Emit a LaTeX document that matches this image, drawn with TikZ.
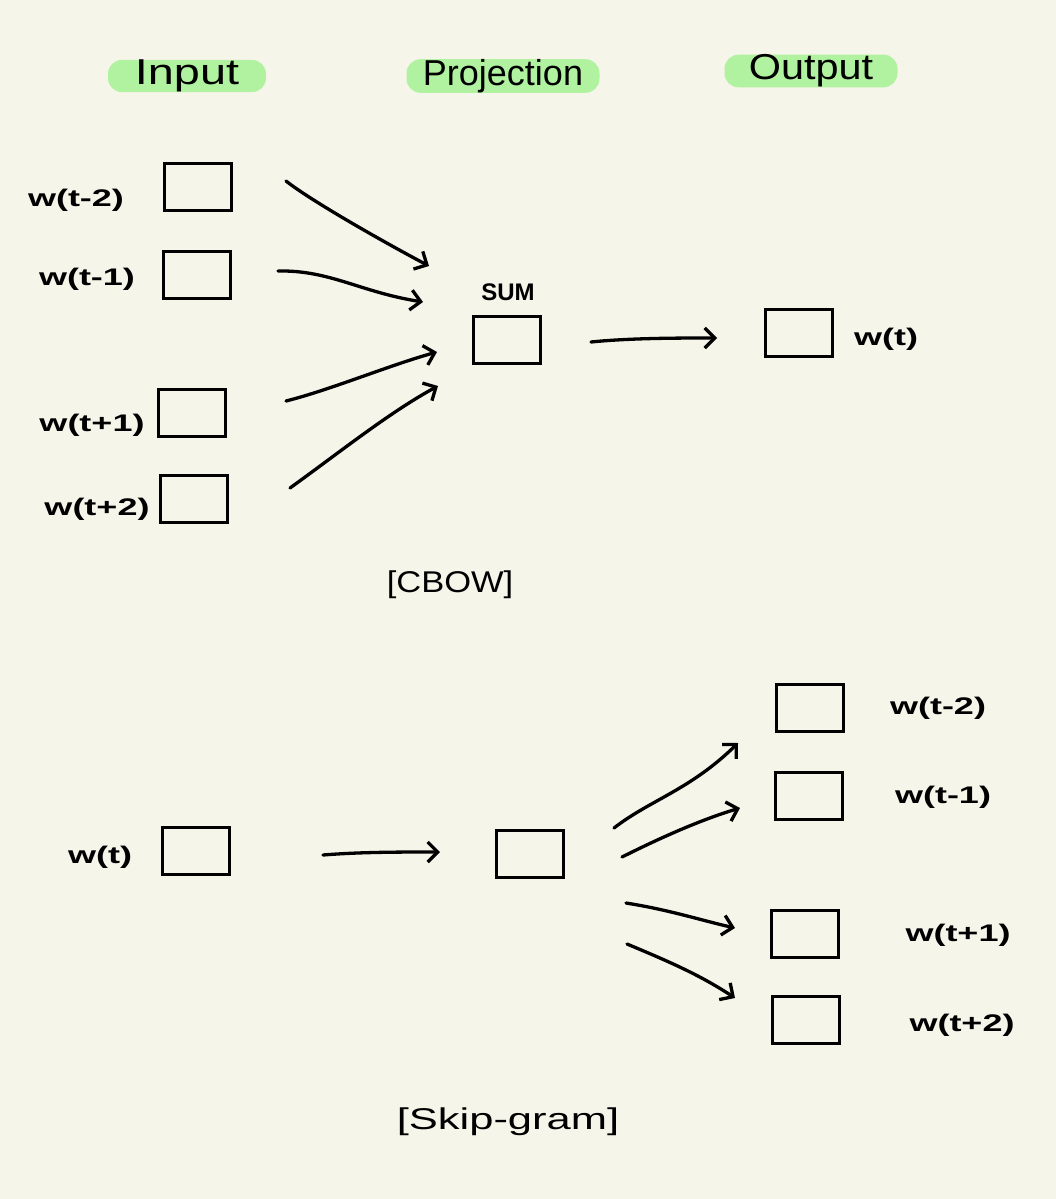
\documentclass[tikz,border=0pt]{standalone}
\usepackage{fontspec}
\setmainfont{Liberation Sans}
\usetikzlibrary{arrows.meta}
\definecolor{bg}{HTML}{F6F5EA}
\definecolor{pill}{HTML}{B0F2A0}
\newcommand{\wide}[1]{\scalebox{1.5}[1]{#1}}
\tikzset{
  box/.style={draw=black, line width=3.3pt, minimum width=67pt, minimum height=47pt, inner sep=0pt},
  lbl/.style={font=\fontsize{24}{26}\selectfont\bfseries, inner sep=0pt},
  head/.style={fill=pill, rounded corners=14pt, minimum height=29pt, inner sep=0pt, font=\fontsize{36}{38}\selectfont},
  captext/.style={font=\fontsize{30}{32}\selectfont, inner sep=0pt},
  arr/.style={line width=3.3pt, line cap=round, -{Straight Barb[length=10pt,width=20pt,line width=3.3pt]}}
}
\begin{document}
\begin{tikzpicture}[x=1pt,y=-1pt]
\fill[bg] (0,0) rectangle (1056,1199);
\useasboundingbox (0,0) rectangle (1056,1199);
% headers
\node[head, minimum width=158pt] (hin) at (187,76) {\scalebox{1.3}[1]{Input}};
\node[head, minimum width=193pt] (hproj) at (503,76) {Projection};
\node[head, minimum width=173pt] (hout) at (811,71) {\scalebox{1.15}[1]{Output}};
% CBOW
\node[box] (i1) at (198,187) {};
\node[box] (i2) at (197,275) {};
\node[box] (i3) at (192,413) {};
\node[box] (i4) at (194,499) {};
\node[box] (sum) at (507,340) {};
\node[box] (out) at (799,333) {};
\node[lbl] (l1) at (76,200) {\wide{w(t-2)}};
\node[lbl] (l2) at (87,279) {\wide{w(t-1)}};
\node[lbl] (l3) at (92,425) {\wide{w(t+1)}};
\node[lbl] (l4) at (97,509) {\wide{w(t+2)}};
\node[lbl] (lsum) at (508,292) {SUM};
\node[lbl] (lout) at (886,339) {\wide{w(t)}};
\coordinate (a1s) at (286,181); \coordinate (a1e) at (429,266);
\coordinate (a2s) at (278,271); \coordinate (a2e) at (423,302);
\coordinate (a3s) at (286,401); \coordinate (a3e) at (437,352);
\coordinate (a4s) at (290,488); \coordinate (a4e) at (438,386);
\coordinate (a5s) at (591,342); \coordinate (a5e) at (717,338);
\draw[arr] (a1s) .. controls (310,200) and (380,240) .. (a1e);
\draw[arr] (a2s) .. controls (330,270) and (360,292) .. (a2e);
\draw[arr] (a3s) .. controls (330,390) and (390,365) .. (a3e);
\draw[arr] (a4s) .. controls (340,452) and (390,412) .. (a4e);
\draw[arr] (a5s) .. controls (630,338) and (680,338) .. (a5e);
\node[captext] (cbow) at (450,585) {\scalebox{1.15}[1]{[CBOW]}};
% Skip-gram
\node[box] (sin) at (196,851) {};
\node[box] (sproj) at (530,854) {};
\node[box] (o1) at (810,708) {};
\node[box] (o2) at (809,796) {};
\node[box] (o3) at (805,934) {};
\node[box] (o4) at (806,1020) {};
\node[lbl] (sl) at (100,857) {\wide{w(t)}};
\node[lbl] (ol1) at (938,708) {\wide{w(t-2)}};
\node[lbl] (ol2) at (943,797) {\wide{w(t-1)}};
\node[lbl] (ol3) at (958,935) {\wide{w(t+1)}};
\node[lbl] (ol4) at (962,1025) {\wide{w(t+2)}};
\coordinate (b0s) at (323,855); \coordinate (b0e) at (440,852);
\coordinate (b1s) at (614,828); \coordinate (b1e) at (738,743);
\coordinate (b2s) at (622,857); \coordinate (b2e) at (740,808);
\coordinate (b3s) at (626,903); \coordinate (b3e) at (735,928);
\coordinate (b4s) at (627,944); \coordinate (b4e) at (735,998);
\draw[arr] (b0s) .. controls (360,852) and (400,852) .. (b0e);
\draw[arr] (b1s) .. controls (650,800) and (690,790) .. (b1e);
\draw[arr] (b2s) .. controls (660,838) and (700,820) .. (b2e);
\draw[arr] (b3s) .. controls (670,910) and (700,920) .. (b3e);
\draw[arr] (b4s) .. controls (670,962) and (700,975) .. (b4e);
\node[captext] (sg) at (508,1122) {\scalebox{1.45}[1]{[Skip-gram]}};
\end{tikzpicture}
\end{document}
